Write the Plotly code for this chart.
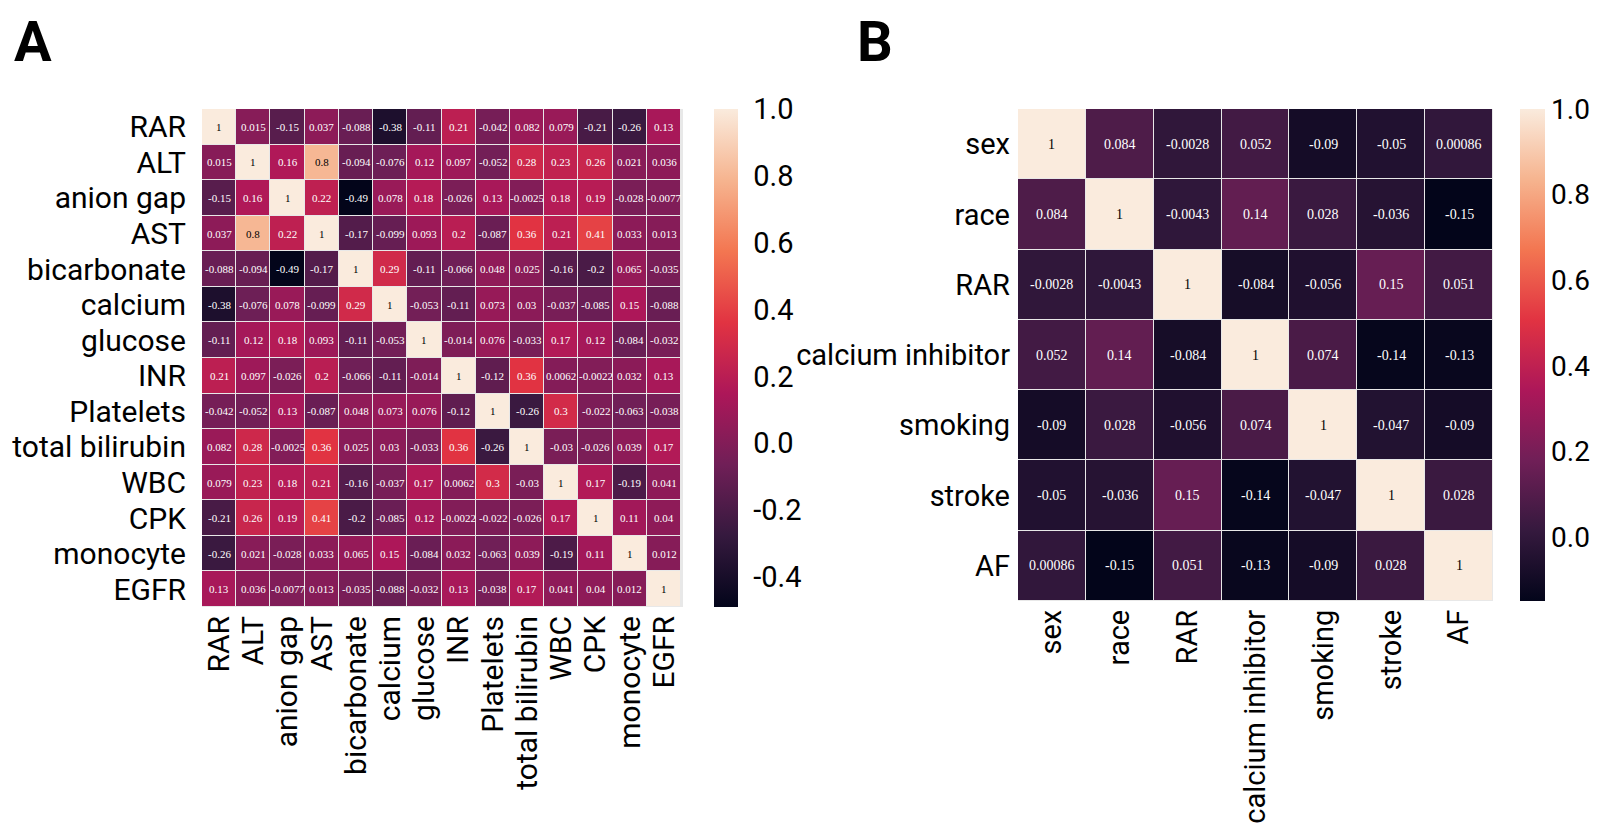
import plotly.graph_objects as go

labels_a = ["RAR", "ALT", "anion gap", "AST", "bicarbonate", "calcium", "glucose", "INR",
            "Platelets", "total bilirubin", "WBC", "CPK", "monocyte", "EGFR"]
corr_a = [
    [1, 0.015, -0.15, 0.037, -0.088, -0.38, -0.11, 0.21, -0.042, 0.082, 0.079, -0.21, -0.26, 0.13],
    [0.015, 1, 0.16, 0.8, -0.094, -0.076, 0.12, 0.097, -0.052, 0.28, 0.23, 0.26, 0.021, 0.036],
    [-0.15, 0.16, 1, 0.22, -0.49, 0.078, 0.18, -0.026, 0.13, -0.0025, 0.18, 0.19, -0.028, -0.0077],
    [0.037, 0.8, 0.22, 1, -0.17, -0.099, 0.093, 0.2, -0.087, 0.36, 0.21, 0.41, 0.033, 0.013],
    [-0.088, -0.094, -0.49, -0.17, 1, 0.29, -0.11, -0.066, 0.048, 0.025, -0.16, -0.2, 0.065, -0.035],
    [-0.38, -0.076, 0.078, -0.099, 0.29, 1, -0.053, -0.11, 0.073, 0.03, -0.037, -0.085, 0.15, -0.088],
    [-0.11, 0.12, 0.18, 0.093, -0.11, -0.053, 1, -0.014, 0.076, -0.033, 0.17, 0.12, -0.084, -0.032],
    [0.21, 0.097, -0.026, 0.2, -0.066, -0.11, -0.014, 1, -0.12, 0.36, 0.0062, -0.0022, 0.032, 0.13],
    [-0.042, -0.052, 0.13, -0.087, 0.048, 0.073, 0.076, -0.12, 1, -0.26, 0.3, -0.022, -0.063, -0.038],
    [0.082, 0.28, -0.0025, 0.36, 0.025, 0.03, -0.033, 0.36, -0.26, 1, -0.03, -0.026, 0.039, 0.17],
    [0.079, 0.23, 0.18, 0.21, -0.16, -0.037, 0.17, 0.0062, 0.3, -0.03, 1, 0.17, -0.19, 0.041],
    [-0.21, 0.26, 0.19, 0.41, -0.2, -0.085, 0.12, -0.0022, -0.022, -0.026, 0.17, 1, 0.11, 0.04],
    [-0.26, 0.021, -0.028, 0.033, 0.065, 0.15, -0.084, 0.032, -0.063, 0.039, -0.19, 0.11, 1, 0.012],
    [0.13, 0.036, -0.0077, 0.013, -0.035, -0.088, -0.032, 0.13, -0.038, 0.17, 0.041, 0.04, 0.012, 1],
]

labels_b = ["sex", "race", "RAR", "calcium inhibitor", "smoking", "stroke", "AF"]
corr_b = [
    [1, 0.084, -0.0028, 0.052, -0.09, -0.05, 0.00086],
    [0.084, 1, -0.0043, 0.14, 0.028, -0.036, -0.15],
    [-0.0028, -0.0043, 1, -0.084, -0.056, 0.15, 0.051],
    [0.052, 0.14, -0.084, 1, 0.074, -0.14, -0.13],
    [-0.09, 0.028, -0.056, 0.074, 1, -0.047, -0.09],
    [-0.05, -0.036, 0.15, -0.14, -0.047, 1, 0.028],
    [0.00086, -0.15, 0.051, -0.13, -0.09, 0.028, 1],
]

ticks_a = [-0.4, -0.2, 0.0, 0.2, 0.4, 0.6, 0.8, 1.0]
ticks_b = [0.0, 0.2, 0.4, 0.6, 0.8, 1.0]

rocket = [
    [0.0, "#03051A"], [0.143, "#35193E"], [0.286, "#701F57"], [0.429, "#AD1759"],
    [0.571, "#E13342"], [0.714, "#F37651"], [0.857, "#F6B48F"], [1.0, "#FAEBDD"],
]

# page body has an 8px margin; figure is sized so the page does not scroll
OFF = 8
W, H = 1599 - 2 * OFF, 832 - 2 * OFF
LABEL_FONT = "Roboto"
CELL_FONT = "Liberation Serif"


def px_x(v):
    return (v - OFF) / W


def px_y(v):
    return 1 - (v - OFF) / H


def flat_min(m):
    return min(min(r) for r in m)


def flat_max(m):
    return max(max(r) for r in m)


fig = go.Figure()

panels = [
    dict(labels=labels_a, z=corr_a, ticks=ticks_a, xa="x", ya="y",
         box=(202, 683, 109, 607), cb=(714, 24), cell=11, lab=30, cbpad=10, ypad=15, cbfont=29),
    dict(labels=labels_b, z=corr_b, ticks=ticks_b, xa="x2", ya="y2",
         box=(1018, 1493, 109, 601), cb=(1520, 25), cell=14, lab=29, cbpad=1, ypad=7, cbfont=28),
]

annotations = []
layout_axes = {}
for i, p in enumerate(panels):
    zmin, zmax = flat_min(p["z"]), flat_max(p["z"])
    x0, x1, y0, y1 = p["box"]
    fig.add_trace(go.Heatmap(
        z=p["z"], x=p["labels"], y=p["labels"],
        colorscale=rocket, zmin=zmin, zmax=zmax,
        xgap=1, ygap=1, xaxis=p["xa"], yaxis=p["ya"], hoverinfo="skip",
        colorbar=dict(
            x=px_x(p["cb"][0]), xanchor="left", xpad=0,
            y=px_y(y0), yanchor="top", ypad=0,
            len=y1 - y0, lenmode="pixels",
            thickness=p["cb"][1], thicknessmode="pixels",
            outlinewidth=0, ticks="outside", ticklen=p["cbpad"],
            tickcolor="rgba(0,0,0,0)", tickvals=p["ticks"],
            ticktext=[f"{t:.1f}" for t in p["ticks"]],
            tickfont=dict(family=LABEL_FONT, size=p["cbfont"], color="black"),
        ),
    ))
    n = len(p["labels"])
    for r in range(n):
        for c in range(n):
            v = p["z"][r][c]
            frac = (v - zmin) / (zmax - zmin)
            annotations.append(dict(
                x=p["labels"][c], y=p["labels"][r], xref=p["xa"], yref=p["ya"],
                text=format(v, ".2g"), showarrow=False,
                font=dict(family=CELL_FONT, size=p["cell"],
                          color="black" if frac > 0.75 else "white"),
            ))
    suffix = "" if i == 0 else "2"
    layout_axes["xaxis" + suffix] = dict(
        domain=[px_x(x0), px_x(x1)], anchor=p["ya"], tickangle=-90,
        tickmode="array", tickvals=p["labels"], ticktext=p["labels"],
        showgrid=False, zeroline=False, showline=False, ticks="",
        tickfont=dict(family=LABEL_FONT, size=p["lab"], color="black"),
        ticklabelstandoff=2, automargin=False,
    )
    layout_axes["yaxis" + suffix] = dict(
        domain=[px_y(y1), px_y(y0)], anchor=p["xa"], autorange="reversed",
        tickmode="array", tickvals=p["labels"], ticktext=p["labels"],
        showgrid=False, zeroline=False, showline=False, ticks="",
        tickfont=dict(family=LABEL_FONT, size=p["lab"], color="black"),
        ticklabelstandoff=p["ypad"], automargin=False,
    )

for letter, xpx in [("A", 13), ("B", 856)]:
    annotations.append(dict(
        x=px_x(xpx), y=1, xref="paper", yref="paper", xanchor="left", yanchor="top",
        text=f"<b>{letter}</b>", showarrow=False, borderpad=0,
        font=dict(family=LABEL_FONT, size=56, color="black"),
    ))

fig.update_layout(
    width=W, height=H, margin=dict(l=0, r=0, t=0, b=0, autoexpand=False),
    paper_bgcolor="white", plot_bgcolor="#e8e8e8",
    annotations=annotations, showlegend=False,
    **layout_axes,
)

fig.write_html("out.html")
